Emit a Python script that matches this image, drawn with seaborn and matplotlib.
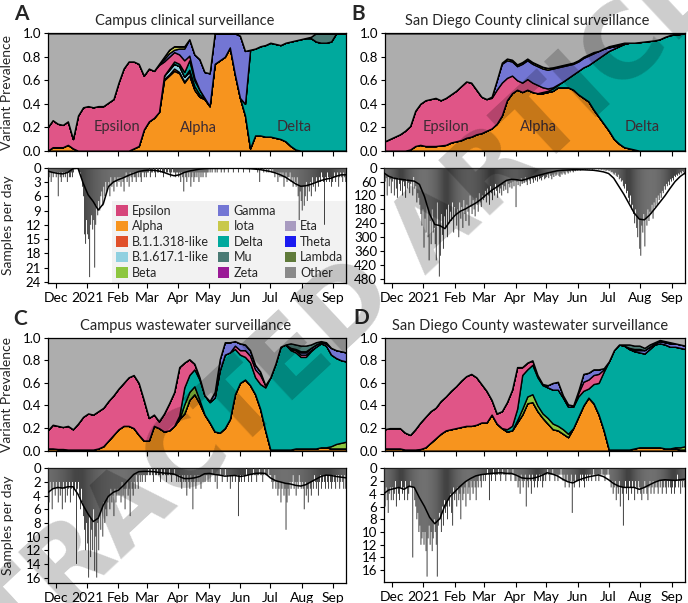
import numpy as np
import pandas as pd
import matplotlib
matplotlib.use("Agg")
import matplotlib.pyplot as plt
import matplotlib.dates as mdates
from matplotlib.patches import Patch
import seaborn as sns

# ---------------- data ----------------
# grid of prevalence estimates: every 5 days from 2020-11-23 (60 points)
grid_start = "2020-11-23"
grid_step_days = 5
# daily sample counts start on the same day
daily_start = "2020-11-23"

# ---- Panel A: campus clinical ----
alphaA = [0, .03, .03, .03, .05, .02, 0, 0, 0, 0,
          0, 0, 0, 0, 0, 0, 0, .02, .04, .18,
          .25, .28, .33, .60, .64, .68, .66, .58, .64, .52,
          .46, .44, .38, .74, .77, .80, .88, .65, .45, .30,
          .02, .13, .13, .12, .12, .11, .10, .08, .04, .01,
          0, 0, 0, 0, 0, 0, 0, 0, 0, 0]
b318A = [0, 0, 0, 0, 0, 0, 0, 0, 0, 0,
         0, 0, 0, 0, 0, 0, 0, 0, 0, 0,
         0, 0, 0, .01, .01, .02, .01, .01, 0, 0,
         0, 0, 0, 0, 0, 0, 0, 0, 0, 0,
         0, 0, 0, 0, 0, 0, 0, 0, 0, 0,
         0, 0, 0, 0, 0, 0, 0, 0, 0, 0]
b617A = [0, 0, 0, 0, 0, 0, 0, 0, 0, 0,
         0, 0, 0, 0, 0, 0, 0, 0, 0, 0,
         0, 0, 0, .03, .04, .04, .05, .04, .03, 0,
         0, 0, 0, 0, 0, 0, 0, 0, 0, 0,
         0, 0, 0, 0, 0, 0, 0, 0, 0, 0,
         0, 0, 0, 0, 0, 0, 0, 0, 0, 0]
betaA = [0, 0, 0, 0, 0, 0, 0, 0, 0, 0,
         0, 0, 0, 0, 0, 0, 0, 0, 0, 0,
         0, 0, 0, 0, 0, 0, 0, 0, .02, .03,
         .02, 0, 0, 0, 0, 0, 0, 0, 0, 0,
         0, 0, 0, 0, 0, 0, 0, 0, 0, 0,
         0, 0, 0, 0, 0, 0, 0, 0, 0, 0]
deltaA = [0, 0, 0, 0, 0, 0, 0, 0, 0, 0,
          0, 0, 0, 0, 0, 0, 0, 0, 0, 0,
          0, 0, 0, 0, .01, .02, .02, .04, .08, .05,
          .04, .01, 0, 0, 0, 0, 0, 0, 0, .10,
          .84, .74, .76, .78, .80, .80, .80, .84, .89, .93,
          .95, .96, .96, .93, .92, .92, .93, 1.0, 1.0, 1.0]
epsA = [.20, .23, .20, .19, .20, .08, .30, .37, .38, .37,
        .38, .38, .41, .44, .58, .70, .76, .74, .70, .46,
        .45, .40, .40, .12, .10, .08, .08, .10, .04, .02,
        0, 0, 0, 0, 0, 0, 0, 0, 0, 0,
        0, 0, 0, 0, 0, 0, 0, 0, 0, 0,
        0, 0, 0, 0, 0, 0, 0, 0, 0, 0]
gammaA = [0, 0, 0, 0, 0, 0, 0, 0, 0, 0,
          0, 0, 0, 0, 0, 0, 0, 0, 0, 0,
          0, 0, .01, .02, .03, .02, .05, .10, .14, .20,
          .26, .22, .28, .26, .23, .20, .12, .35, .53, .45,
          0, 0, 0, 0, 0, 0, 0, 0, 0, 0,
          0, 0, 0, 0, 0, 0, 0, 0, 0, 0]
iotaA = [0, 0, 0, 0, 0, 0, 0, 0, 0, 0,
         0, 0, 0, 0, 0, 0, 0, 0, 0, 0,
         0, 0, 0, .02, .03, .03, .02, .02, 0, 0,
         0, 0, 0, 0, 0, 0, 0, 0, 0, 0,
         0, 0, 0, 0, 0, 0, 0, 0, 0, 0,
         0, 0, 0, 0, 0, 0, 0, 0, 0, 0]
muA = [0, 0, 0, 0, 0, 0, 0, 0, 0, 0,
       0, 0, 0, 0, 0, 0, 0, 0, 0, 0,
       0, 0, 0, 0, 0, 0, 0, 0, 0, 0,
       0, 0, 0, 0, 0, 0, 0, 0, 0, 0,
       0, 0, 0, 0, 0, 0, 0, 0, 0, 0,
       0, 0, .01, .07, .08, .08, .07, 0, 0, 0]

# ---- Panel B: San Diego County clinical ----
alphaB = [0, 0, 0, 0, 0, .01, .04, .05, .04, .04,
          .04, .045, .05, .07, .08, .09, .11, .12, .14, .15,
          .17, .19, .23, .30, .43, .49, .52, .50, .52, .50,
          .49, .49, .50, .51, .54, .54, .54, .52, .48, .45,
          .42, .35, .29, .23, .17, .10, .06, .03, .02, .01,
          0, 0, 0, 0, 0, 0, 0, 0, 0, 0]
deltaB = [0, 0, 0, 0, 0, 0, 0, 0, 0, 0,
          0, 0, 0, 0, 0, 0, 0, 0, 0, 0,
          0, 0, 0, 0, 0, 0, 0, 0, 0, 0,
          0, .01, .01, .02, .02, .05, .08, .13, .20, .26,
          .31, .41, .50, .59, .68, .77, .83, .88, .90, .91,
          .925, .93, .935, .94, .95, .97, .985, .99, .995, 1.0]
epsB = [.08, .10, .12, .14, .17, .20, .30, .35, .39, .40,
        .41, .385, .40, .41, .43, .46, .48, .46, .38, .31,
        .27, .26, .29, .28, .19, .15, .08, .08, .09, .08,
        .07, .04, .02, .01, .005, 0, 0, 0, 0, 0,
        0, 0, 0, 0, 0, 0, 0, 0, 0, 0,
        0, 0, 0, 0, 0, 0, 0, 0, 0, 0]
gammaB = [0, 0, 0, 0, 0, 0, 0, 0, 0, 0,
          0, 0, 0, 0, 0, 0, 0, 0, 0, 0,
          0, .01, .08, .16, .15, .12, .12, .16, .16, .16,
          .16, .16, .16, .16, .145, .13, .11, .09, .08, .08,
          .08, .07, .06, .05, .03, .02, .01, 0, 0, 0,
          0, 0, 0, 0, 0, 0, 0, 0, 0, 0]
iotaB = [0, 0, 0, 0, 0, 0, 0, 0, 0, 0,
         0, 0, 0, 0, 0, 0, 0, 0, 0, 0,
         0, 0, 0, .01, .015, .015, .015, .015, .015, .015,
         .015, .015, .015, .01, .01, .01, .01, .01, .01, .01,
         .01, .01, 0, 0, 0, 0, 0, 0, 0, 0,
         0, 0, 0, 0, 0, 0, 0, 0, 0, 0]
muB = [0, 0, 0, 0, 0, 0, 0, 0, 0, 0,
       0, 0, 0, 0, 0, 0, 0, 0, 0, 0,
       0, 0, 0, 0, 0, 0, 0, 0, 0, 0,
       0, 0, 0, 0, 0, 0, 0, 0, 0, 0,
       0, 0, 0, 0, .01, .01, .01, .01, 0, 0,
       0, 0, 0, 0, 0, 0, 0, 0, 0, 0]

# ---- Panel C: campus wastewater ----
alphaC = [.02, .02, .015, .015, .01, .01, .01, .01, .01, .01,
          .02, .04, .09, .14, .19, .22, .22, .20, .14, .09,
          .09, .22, .20, .17, .18, .22, .28, .33, .45, .50,
          .42, .32, .25, .17, .16, .20, .28, .50, .60, .63,
          .58, .50, .37, .18, .01, .01, .01, .01, .01, .02,
          .02, .02, .02, .02, .03, .03, .02, .02, .02, .02]
betaC = [0, 0, 0, 0, 0, 0, 0, 0, 0, 0,
         0, 0, 0, 0, 0, 0, 0, 0, 0, 0,
         0, 0, 0, 0, 0, 0, 0, .08, .07, .07,
         .03, 0, 0, 0, 0, 0, 0, 0, 0, 0,
         0, 0, 0, 0, 0, 0, 0, 0, 0, 0,
         0, 0, 0, 0, 0, 0, .02, .04, .05, .06]
deltaC = [0, 0, 0, 0, 0, 0, 0, 0, 0, 0,
          0, 0, 0, 0, 0, 0, 0, 0, 0, 0,
          0, 0, 0, 0, 0, 0, .03, .15, .15, .15,
          .18, .17, .18, .30, .55, .65, .59, .40, .25, .20,
          .20, .15, .22, .38, .64, .76, .91, .93, .88, .85,
          .81, .81, .86, .90, .92, .90, .81, .76, .73, .71]
epsC = [.16, .21, .205, .195, .21, .18, .23, .29, .32, .31,
        .33, .34, .35, .35, .36, .38, .43, .47, .46, .36,
        .20, .10, .06, .16, .24, .30, .43, .22, .14, .05,
        .02, 0, 0, 0, 0, 0, 0, .03, .04, .06,
        .06, .07, .08, .02, 0, 0, 0, 0, .01, .02,
        .02, .02, .01, 0, 0, 0, 0, 0, 0, 0]
gammaC = [0, 0, 0, 0, 0, 0, 0, 0, 0, 0,
          0, 0, 0, 0, 0, 0, 0, 0, 0, 0,
          0, 0, 0, 0, 0, 0, 0, 0, 0, 0,
          0, 0, .01, .05, .10, .11, .09, .04, .06, .05,
          .05, .04, .03, 0, 0, 0, 0, 0, 0, 0,
          .02, .02, .02, .02, .01, .02, .06, .07, .08, .08]
iotaC = [0, 0, 0, 0, 0, 0, 0, 0, 0, 0,
         0, 0, 0, 0, 0, 0, 0, 0, 0, 0,
         0, 0, 0, 0, 0, 0, 0, 0, 0, 0,
         0, 0, 0, 0, 0, 0, 0, 0, 0, 0,
         0, 0, 0, 0, 0, 0, 0, 0, .01, .01,
         .01, .01, 0, 0, 0, 0, 0, 0, 0, 0]
muC = [0, 0, 0, 0, 0, 0, 0, 0, 0, 0,
       0, 0, 0, 0, 0, 0, 0, 0, 0, 0,
       0, 0, 0, 0, 0, 0, 0, 0, 0, 0,
       0, 0, 0, 0, 0, 0, 0, 0, 0, 0,
       0, 0, 0, 0, 0, 0, 0, 0, .04, .04,
       .05, .05, .03, .02, .01, .01, 0, 0, 0, 0]

# ---- Panel D: San Diego County wastewater ----
alphaD = [.02, .02, .02, .02, .01, .01, .01, .015, .03, .07,
          .11, .15, .18, .19, .20, .21, .22, .22, .23, .25,
          .25, .32, .24, .20, .17, .18, .25, .32, .42, .43,
          .35, .29, .24, .19, .18, .15, .12, .20, .30, .40,
          .47, .42, .32, .18, .01, .01, .01, .01, .01, .02,
          .03, .03, .03, .03, .03, .02, .02, .02, .01, .01]
betaD = [0, 0, 0, 0, 0, 0, 0, 0, 0, 0,
         0, 0, 0, 0, 0, 0, 0, 0, 0, 0,
         0, 0, 0, 0, 0, 0, .02, .05, .06, .07,
         .05, .04, .05, .05, .04, .04, .03, 0, 0, 0,
         0, 0, 0, 0, 0, 0, 0, 0, 0, 0,
         0, 0, 0, 0, 0, 0, 0, .01, .02, .03]
deltaD = [0, 0, 0, 0, 0, 0, 0, 0, 0, 0,
          0, 0, 0, 0, 0, 0, 0, 0, 0, 0,
          0, 0, 0, 0, .02, .04, .10, .30, .24, .26,
          .25, .25, .27, .30, .32, .28, .24, .19, .18, .13,
          .08, .17, .28, .52, .78, .88, .93, .92, .89, .86,
          .84, .83, .87, .91, .92, .92, .90, .89, .88, .86]
epsD = [.17, .18, .18, .18, .15, .13, .18, .235, .27, .28,
        .27, .29, .30, .34, .37, .41, .44, .46, .42, .34,
        .28, .13, .09, .15, .24, .32, .37, .07, .06, .04,
        .02, .01, 0, 0, 0, 0, 0, 0, .03, .08,
        .08, .08, .08, .02, 0, 0, 0, 0, 0, 0,
        0, 0, 0, 0, 0, 0, 0, 0, 0, 0]
gammaD = [0, 0, 0, 0, 0, 0, 0, 0, 0, 0,
          0, 0, 0, 0, 0, 0, 0, 0, 0, 0,
          0, 0, 0, 0, 0, 0, 0, 0, 0, 0,
          0, 0, .02, .06, .07, .02, .02, .01, .02, .07,
          .06, .05, .04, .01, 0, 0, 0, 0, 0, .01,
          .02, .03, .02, .01, .02, .02, .03, .03, .03, .03]
iotaD = [0, 0, 0, 0, 0, 0, 0, 0, 0, 0,
         0, 0, 0, 0, 0, 0, 0, 0, 0, 0,
         0, 0, 0, 0, 0, 0, 0, 0, 0, 0,
         0, 0, 0, 0, 0, 0, 0, 0, 0, 0,
         0, 0, 0, 0, 0, 0, 0, 0, .01, .01,
         .01, 0, 0, 0, 0, 0, 0, 0, 0, 0]
muD = [0, 0, 0, 0, 0, 0, 0, 0, 0, 0,
       0, 0, 0, 0, 0, 0, 0, 0, 0, 0,
       0, 0, 0, 0, 0, 0, 0, 0, 0, 0,
       0, 0, 0, 0, 0, 0, 0, 0, 0, 0,
       0, 0, 0, 0, 0, 0, 0, .01, .03, .03,
       .03, .02, .02, .01, .01, .01, .01, 0, 0, 0]

# ---- smoothed samples per day (same 5-day grid) ----
lineA = [0.7, 1.0, 1.2, 1.3, 1.0, 0.2, 0.1, 3.2, 5.7, 7.1,
         8.9, 7.6, 4.0, 3.0, 2.5, 2.1, 1.6, 1.2, 0.8, 0.6,
         0.5, 0.55, 0.7, 1.0, 1.4, 1.7, 1.5, 1.0, 0.7, 0.5,
         0.3, 0.2, 0.15, 0.15, 0.15, 0.15, 0.1, 0.1, 0.1, 0.15,
         0.2, 0.3, 0.4, 0.6, 0.8, 1.1, 1.5, 2.0, 2.7, 3.4,
         3.9, 3.8, 3.5, 3.1, 2.7, 2.4, 2.2, 1.8, 1.5, 1.5]
lineB = [22, 37, 45, 49, 52, 55, 58, 72, 125, 200,
         245, 250, 263, 230, 205, 188, 178, 165, 153, 137,
         118, 100, 85, 70, 55, 50, 52, 55, 49, 41,
         35, 29, 23, 18, 13, 11, 10, 9, 9, 9,
         10, 11, 14, 18, 25, 45, 80, 115, 155, 195,
         222, 225, 205, 178, 150, 122, 90, 60, 38, 22]
lineC = [3.6, 3.0, 2.8, 2.9, 2.7, 2.7, 3.8, 5.4, 6.7, 7.8,
         7.3, 5.4, 4.1, 3.5, 3.2, 2.5, 1.7, 0.9, 0.5, 0.45,
         0.45, 0.5, 0.6, 0.7, 0.75, 0.85, 1.2, 1.5, 1.5, 1.4,
         1.2, 0.8, 0.75, 0.9, 1.0, 1.15, 1.1, 1.05, 1.2, 1.1,
         0.9, 0.75, 0.7, 0.75, 1.4, 1.8, 2.0, 2.2, 2.3, 2.5,
         2.6, 2.4, 2.0, 1.6, 1.2, 1.0, 1.05, 1.2, 1.3, 1.4]
lineD = [4.0, 3.4, 3.2, 3.0, 3.3, 2.8, 3.0, 4.6, 6.0, 7.7,
         8.7, 7.9, 5.8, 4.4, 3.6, 2.8, 2.1, 1.6, 1.2, 1.0,
         0.9, 0.8, 0.75, 0.7, 0.8, 0.8, 1.1, 1.5, 1.6, 1.6,
         1.4, 1.1, 0.7, 0.9, 1.2, 1.7, 2.1, 2.3, 1.9, 1.6,
         1.35, 1.2, 1.05, 1.3, 1.8, 2.4, 2.8, 3.0, 3.0, 3.0,
         3.3, 3.0, 2.6, 2.2, 1.9, 1.8, 1.85, 1.9, 1.8, 1.7]

# ---- daily samples (Nov 23 2020 .. Sep 13 2021) ----
barsA = ([1, 2, 1, 3, 1, 2, 1, 1] +
         [2, 1, 6, 1, 2, 3, 1, 2, 1, 2, 1, 3, 1, 2, 2, 1, 2, 1, 0, 0, 0, 0, 0, 1, 1, 2, 4, 6, 14, 16, 11] +
         [14, 15, 23, 12, 10, 13, 11, 21, 12, 8, 10, 7, 9, 6, 5, 8, 4, 6, 3, 5, 4, 3, 6, 2, 4, 3, 5, 2, 3, 4, 2] +
         [3, 2, 4, 2, 3, 5, 2, 1, 3, 2, 4, 1, 2, 3, 1, 2, 2, 3, 1, 2, 1, 2, 3, 1, 1, 2, 1, 2] +
         [1, 1, 0, 2, 1, 1, 0, 1, 2, 0, 1, 1, 0, 1, 0, 1, 2, 1, 0, 1, 1, 0, 1, 2, 1, 0, 1, 1, 2, 1, 1] +
         [2, 1, 3, 1, 2, 5, 1, 2, 3, 1, 2, 1, 4, 2, 1, 3, 2, 1, 2, 1, 3, 1, 2, 1, 2, 1, 1, 2, 1, 1] +
         [0, 1, 0, 1, 0, 0, 1, 0, 1, 0, 0, 0, 1, 0, 0, 1, 0, 0, 0, 1, 0, 0, 0, 0, 1, 0, 0, 0, 0, 1, 0] +
         [0, 0, 0, 1, 0, 0, 0, 0, 0, 1, 0, 0, 0, 0, 0, 0, 0, 1, 0, 3, 0, 0, 0, 1, 0, 0, 1, 0, 1, 0] +
         [0, 1, 0, 1, 2, 1, 1, 3, 1, 2, 1, 2, 1, 4, 2, 1, 3, 2, 2, 1, 3, 2, 4, 2, 3, 4, 2, 6, 11, 5, 7] +
         [9, 4, 8, 6, 3, 7, 4, 5, 3, 6, 2, 4, 3, 5, 2, 3, 4, 2, 3, 1, 2, 3, 12, 2, 3, 1, 2, 3, 2, 4, 3] +
         [2, 1, 3, 2, 1, 4, 2, 1, 2, 3, 1, 2, 3])
barsB = ([30, 60, 45, 120, 40, 80, 50, 110] +
         [60, 40, 120, 50, 90, 130, 45, 70, 100, 55, 120, 60, 80, 130, 50, 90, 65, 110, 70, 60,
          120, 40, 90, 80, 150, 110, 130, 160, 200, 250, 180] +
         [345, 220, 280, 160, 300, 400, 230, 330, 180, 280, 260, 330, 400, 150, 250, 470, 380, 200, 290, 350,
          210, 260, 180, 300, 160, 240, 190, 230, 150, 280, 170] +
         [200, 250, 180, 300, 150, 220, 170, 260, 140, 200, 230, 160, 190, 250, 120, 170, 200, 140, 180, 210,
          130, 160, 190, 110, 150, 170, 120, 140] +
         [130, 100, 150, 90, 120, 160, 80, 110, 140, 95, 120, 70, 100, 130, 85, 110, 90, 120, 75, 100,
          80, 95, 60, 110, 70, 85, 65, 90, 60, 80, 55] +
         [170, 60, 75, 50, 80, 45, 70, 55, 65, 40, 60, 75, 45, 55, 70, 40, 50, 65, 45, 55,
          40, 60, 35, 50, 45, 55, 40, 35, 50, 45] +
         [40, 30, 45, 25, 35, 50, 30, 40, 25, 35, 30, 20, 35, 40, 25, 30, 20, 25, 30, 15,
          20, 25, 15, 20, 10, 15, 20, 12, 15, 10, 12] +
         [10, 8, 12, 6, 10, 8, 5, 10, 7, 9, 6, 8, 5, 7, 10, 6, 8, 5, 7, 6,
          9, 5, 8, 10, 6, 12, 8, 15, 10, 12] +
         [15, 12, 20, 18, 25, 30, 22, 35, 40, 30, 50, 45, 60, 55, 80, 90, 70, 110, 100, 130,
          150, 120, 180, 160, 200, 240, 180, 260, 300, 220, 350] +
         [380, 250, 280, 200, 340, 220, 250, 180, 230, 190, 200, 160, 220, 150, 170, 130, 160, 120, 140, 110,
          130, 100, 110, 80, 95, 70, 80, 60, 75, 50, 60] +
         [45, 55, 35, 40, 30, 35, 25, 30, 20, 25, 15, 20, 30])
barsC = ([4, 5, 2, 3, 6, 2, 3, 4] +
         [2, 3, 5, 2, 4, 3, 6, 2, 3, 5, 2, 4, 3, 2, 5, 3, 2, 4, 3, 2, 14, 3, 2, 4, 6, 3, 5, 7, 9, 12, 8] +
         [11, 16, 7, 13, 9, 12, 6, 15, 10, 16, 8, 12, 7, 9, 6, 10, 5, 8, 6, 7, 5, 4, 6, 3, 5, 4, 7, 3, 5, 4, 3] +
         [4, 3, 5, 2, 4, 3, 6, 3, 2, 4, 3, 7, 2, 3, 4, 2, 3, 1, 2, 3, 1, 2, 1, 2, 1, 1, 2, 1] +
         [1, 0, 1, 1, 0, 1, 2, 0, 1, 1, 0, 1, 1, 2, 0, 1, 1, 0, 1, 2, 1, 1, 0, 1, 2, 1, 1, 0, 1, 2, 1] +
         [2, 1, 2, 3, 1, 2, 1, 2, 4, 1, 2, 3, 1, 2, 6, 2, 1, 3, 2, 1, 2, 1, 3, 1, 2, 1, 2, 1, 1, 2] +
         [1, 2, 1, 0, 1, 1, 2, 1, 3, 1, 1, 0, 1, 2, 1, 1, 0, 1, 2, 1, 1, 3, 1, 2, 1, 1, 2, 1, 1, 7, 2] +
         [1, 2, 1, 1, 2, 1, 0, 1, 2, 1, 1, 2, 1, 0, 1, 1, 2, 1, 1, 0, 1, 1, 2, 1, 0, 1, 1, 1, 0, 1] +
         [1, 2, 3, 2, 1, 3, 2, 4, 3, 2, 5, 3, 2, 4, 3, 9, 5, 3, 4, 2, 3, 2, 1, 3, 2, 4, 2, 3, 1, 2, 3] +
         [2, 3, 6, 2, 4, 3, 5, 2, 3, 4, 2, 3, 1, 2, 3, 2, 4, 2, 1, 3, 2, 1, 2, 3, 1, 2, 3, 1, 2, 3, 2] +
         [1, 2, 3, 1, 2, 1, 3, 2, 1, 2, 3, 1, 3])
barsD = ([4, 6, 3, 5, 7, 4, 3, 5] +
         [3, 5, 4, 2, 6, 3, 4, 5, 3, 2, 4, 3, 5, 2, 3, 5, 4, 3, 2, 3, 14, 3, 5, 6, 8, 7, 10, 9, 12, 11, 10] +
         [12, 10, 13, 17, 11, 9, 12, 10, 13, 11, 8, 10, 12, 17, 9, 7, 8, 10, 6, 9, 5, 7, 6, 8, 5, 6, 4, 7, 9, 3, 5] +
         [4, 6, 3, 5, 4, 8, 3, 5, 4, 3, 6, 2, 4, 3, 5, 2, 3, 4, 2, 3, 5, 2, 3, 1, 2, 3, 1, 2] +
         [1, 2, 1, 0, 1, 5, 1, 2, 1, 0, 1, 2, 1, 1, 0, 1, 2, 1, 0, 1, 1, 2, 1, 0, 1, 1, 2, 1, 0, 1, 2] +
         [2, 1, 3, 2, 4, 1, 2, 3, 2, 1, 6, 2, 3, 1, 2, 4, 1, 2, 3, 2, 1, 3, 2, 1, 2, 1, 3, 2, 1, 2] +
         [1, 0, 1, 2, 1, 1, 0, 1, 2, 1, 1, 2, 1, 1, 0, 1, 2, 1, 3, 2, 1, 2, 3, 2, 1, 7, 2, 3, 1, 2, 2] +
         [2, 3, 1, 2, 1, 2, 3, 1, 2, 1, 2, 1, 1, 2, 1, 0, 1, 2, 1, 1, 2, 1, 1, 0, 1, 1, 2, 1, 1, 0] +
         [1, 2, 3, 2, 4, 3, 2, 5, 3, 4, 2, 6, 3, 4, 9, 3, 2, 4, 3, 5, 2, 3, 4, 2, 3, 5, 2, 3, 4, 2, 3] +
         [4, 5, 3, 4, 2, 3, 4, 5, 3, 2, 4, 3, 2, 4, 3, 2, 3, 4, 2, 3, 2, 4, 3, 2, 3, 4, 2, 3, 2, 3, 4] +
         [3, 2, 4, 3, 2, 1, 3, 2, 4, 2, 3, 2, 3])

titles = ["Campus clinical surveillance", "San Diego County clinical surveillance",
          "Campus wastewater surveillance", "San Diego County wastewater surveillance"]
panel_letters = ["A", "B", "C", "D"]
month_ticks = ["2020-12-01", "2021-01-01", "2021-02-01", "2021-03-01", "2021-04-01",
               "2021-05-01", "2021-06-01", "2021-07-01", "2021-08-01", "2021-09-01"]
month_labels = ["Dec", "2021", "Feb", "Mar", "Apr", "May", "Jun", "Jul", "Aug", "Sep"]
sample_ticks = [[0, 3, 6, 9, 12, 15, 18, 21, 24],
                [0, 60, 120, 180, 240, 300, 360, 420, 480],
                [0, 2, 4, 6, 8, 10, 12, 14, 16],
                [0, 2, 4, 6, 8, 10, 12, 14, 16]]
sample_ylim = [24.3, 499, 16.75, 17.8]

legend_names = ["Epsilon", "Alpha", "B.1.1.318-like", "B.1.617.1-like", "Beta",
                "Gamma", "Iota", "Delta", "Mu", "Zeta",
                "Eta", "Theta", "Lambda", "Other"]

# in-plot variant names (panel A and B): label, date, prevalence height
variant_labels = [
    [("Epsilon", "2021-01-30", 0.2), ("Alpha", "2021-04-21", 0.19), ("Delta", "2021-07-25", 0.2)],
    [("Epsilon", "2021-01-22", 0.2), ("Alpha", "2021-04-23", 0.2), ("Delta", "2021-08-03", 0.2)],
    [], [],
]

# ---------------- style ----------------
colors = {
    "Epsilon": "#e05587", "Alpha": "#f7941e", "B.1.1.318-like": "#e0502a",
    "B.1.617.1-like": "#8fd0e0", "Beta": "#8dc63f", "Gamma": "#7376d4",
    "Iota": "#c8c84a", "Delta": "#00a99d", "Mu": "#4a7a74", "Zeta": "#9a1a96",
    "Eta": "#a89bc0", "Theta": "#1a1af0", "Lambda": "#5f7a3a", "Other": "#adadad",
}
legend_colors = dict(colors)
legend_colors["Other"] = "#8a8a8a"
legend_colors["Epsilon"] = "#d6457a"

sns.set_theme(style="ticks")
plt.rcParams["font.family"] = ["Lato", "DejaVu Sans"]
plt.rcParams.update({
    "axes.linewidth": 0.9, "axes.edgecolor": "black",
    "xtick.major.size": 3.5, "ytick.major.size": 3.0,
    "xtick.major.width": 0.8, "ytick.major.width": 0.8,
    "xtick.color": "black", "ytick.color": "black",
    "xtick.labelsize": 9.5, "ytick.labelsize": 9.5,
    "xtick.major.pad": 2, "ytick.major.pad": 2,
})

W, H = 688.0, 603.0
fig = plt.figure(figsize=(W / 100, H / 100), dpi=100)


def add_ax(x0, y0, x1, y1):
    return fig.add_axes([x0 / W, 1 - y1 / H, (x1 - x0) / W, (y1 - y0) / H])


xg = mdates.date2num(pd.date_range(grid_start, periods=60, freq=f"{grid_step_days}D").to_pydatetime())
xlim = (mdates.date2num(pd.Timestamp("2020-11-23 09:00")), mdates.date2num(pd.Timestamp("2021-09-13 18:00")))
tick_pos = mdates.date2num(pd.to_datetime(month_ticks).to_pydatetime())

top_boxes = [(48, 33.3, 346, 150.7), (385, 33.3, 685, 150.7),
             (48, 337.7, 346, 450.7), (385, 337.7, 685, 450.7)]
bot_boxes = [(48, 167.7, 346, 283.3), (384, 167.7, 685, 283.3),
             (48, 468.3, 346, 582.7), (384, 468.3, 685, 581.7)]

stack_order = ["Alpha", "B.1.1.318-like", "B.1.617.1-like", "Beta", "Delta",
               "Epsilon", "Gamma", "Iota", "Mu"]
panels = [
    {"Alpha": alphaA, "B.1.1.318-like": b318A, "B.1.617.1-like": b617A, "Beta": betaA,
     "Delta": deltaA, "Epsilon": epsA, "Gamma": gammaA, "Iota": iotaA, "Mu": muA},
    {"Alpha": alphaB, "Delta": deltaB, "Epsilon": epsB, "Gamma": gammaB, "Iota": iotaB, "Mu": muB},
    {"Alpha": alphaC, "Beta": betaC, "Delta": deltaC, "Epsilon": epsC, "Gamma": gammaC,
     "Iota": iotaC, "Mu": muC},
    {"Alpha": alphaD, "Beta": betaD, "Delta": deltaD, "Epsilon": epsD, "Gamma": gammaD,
     "Iota": iotaD, "Mu": muD},
]
lines = [lineA, lineB, lineC, lineD]
bars = [barsA, barsB, barsC, barsD]
title_pos = [(185, 21), (527, 21), (185.5, 326), (530.5, 326)]
letter_pos = [(21, 14), (358, 14), (20, 319), (361, 318)]

for i in range(4):
    # ---- prevalence stack ----
    ax = add_ax(*top_boxes[i])
    layers = [np.array(panels[i].get(n, np.zeros(60)), dtype=float) for n in stack_order]
    other = np.clip(1.0 - np.sum(layers, axis=0), 0, None)
    ax.stackplot(xg, *layers, other,
                 colors=[colors[n] for n in stack_order] + [colors["Other"]],
                 edgecolor="black", linewidth=1.0)
    ax.set_xlim(*xlim)
    ax.set_ylim(0, 1)
    ax.set_yticks([0, 0.2, 0.4, 0.6, 0.8, 1.0])
    ax.set_yticklabels(["0.0", "0.2", "0.4", "0.6", "0.8", "1.0"])
    ax.set_xticks(tick_pos)
    ax.set_xticklabels([])
    for name, d, yv in variant_labels[i]:
        ax.text(mdates.date2num(pd.Timestamp(d)), yv, name, ha="center", va="center",
                fontsize=10.5, color="#3d2b33")
    if i in (0, 2):
        ax.set_ylabel("Variant Prevalence", fontsize=10)
        ax.yaxis.set_label_coords(-0.118, 0.5)
    for s in ax.spines.values():
        s.set_visible(True)

    # ---- samples per day ----
    axb = add_ax(*bot_boxes[i])
    vals = np.array(bars[i], dtype=float)
    xd = mdates.date2num(pd.date_range(daily_start, periods=len(vals), freq="D").to_pydatetime()) + 0.5
    bc = axb.bar(xd, vals, width=0.9, color="#333333", linewidth=0, zorder=3)
    for p in bc.patches:
        p.set_snap(False)
    sns.lineplot(x=xg, y=np.array(lines[i]), ax=axb, color="black", linewidth=1.1, zorder=4)
    axb.set_xlim(*xlim)
    axb.set_ylim(sample_ylim[i], 0)
    axb.set_yticks(sample_ticks[i])
    axb.set_xticks(tick_pos)
    axb.set_xticklabels(month_labels)
    axb.tick_params(axis="x", labelsize=10, pad=3)
    axb.set_xlabel("")
    axb.set_ylabel("")
    if i in (0, 2):
        axb.set_ylabel("Samples per day", fontsize=10)
        axb.yaxis.set_label_coords(-0.113, 0.5)
    for s in axb.spines.values():
        s.set_visible(True)

    if i == 0:
        handles = []
        labels = []
        order_cols = legend_names[:5] + legend_names[5:10] + [None] + legend_names[10:]
        for n in order_cols:
            if n is None:
                handles.append(Patch(facecolor="none", edgecolor="none"))
                labels.append("")
            else:
                handles.append(Patch(facecolor=legend_colors[n], edgecolor="none"))
                labels.append(n)
        leg = axb.legend(handles, labels, ncol=3, loc="lower left", bbox_to_anchor=(0.215, 0.0),
                         frameon=True, fancybox=False, fontsize=9, handlelength=0.9,
                         handleheight=0.9, handletextpad=0.35, columnspacing=0.7,
                         labelspacing=0.28, borderpad=0.35, borderaxespad=0.0)
        leg.get_frame().set_facecolor("#f2f2f2")
        leg.get_frame().set_edgecolor("none")
        leg.get_frame().set_alpha(1.0)
        leg.set_zorder(2)

    fig.text(title_pos[i][0] / W, 1 - title_pos[i][1] / H, titles[i], ha="center", va="center",
             fontsize=10.5)
    fig.text(letter_pos[i][0] / W, 1 - letter_pos[i][1] / H, panel_letters[i], ha="center",
             va="center", fontsize=15, fontweight="bold")

# watermark overlay present in the reference
fig.text(318 / W, 1 - 337 / H, "RETRACTED ARTICLE", rotation=43, rotation_mode="anchor",
         ha="center", va="center", fontsize=74, fontweight="bold", color="black", alpha=0.2,
         family="DejaVu Sans", zorder=10)

fig.savefig("out.png", dpi=100)
